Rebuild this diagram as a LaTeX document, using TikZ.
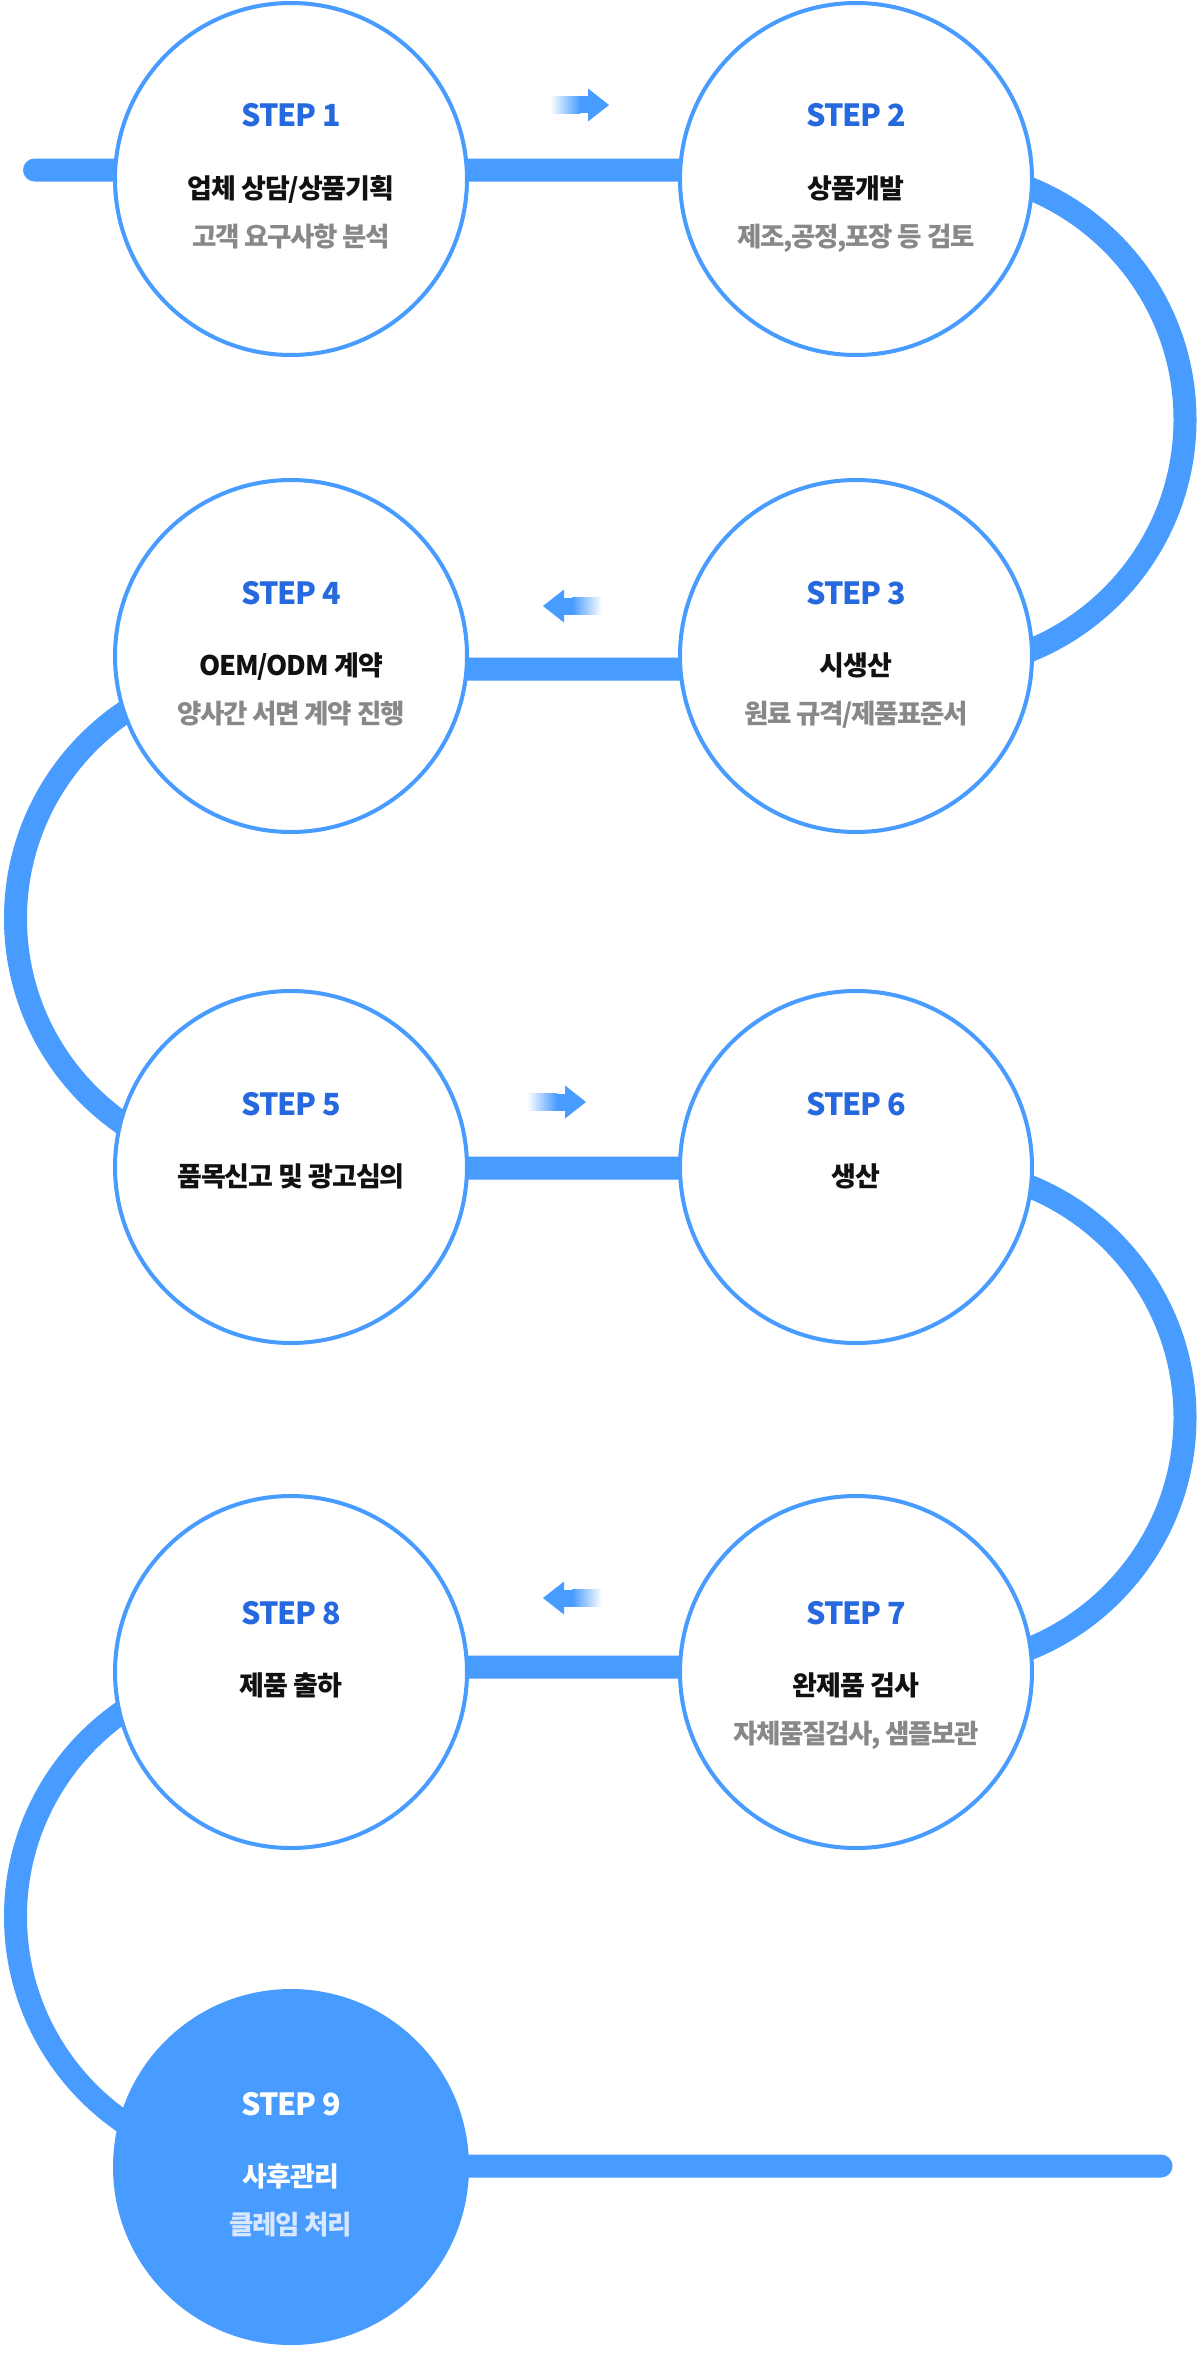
\documentclass[tikz,border=0pt]{standalone}
\usepackage{fontspec}
\setmainfont{Noto Sans CJK KR}
\definecolor{lineblue}{RGB}{72,155,255}
\definecolor{stepblue}{RGB}{38,104,222}
\definecolor{subgray}{RGB}{136,136,136}
\definecolor{titleblack}{RGB}{17,17,17}
\definecolor{palesub}{RGB}{214,231,255}
\newcommand\myrarrow[2]{%
  \shade[left color=white,right color=lineblue] (#1-59,#2-8.5) rectangle (#1-29,#2+8.5);
  \fill[lineblue] (#1-29.5,#2-8.5) rectangle (#1-19,#2+8.5);
  \fill[lineblue] (#1-21,#2-16.5) -- (#1,#2) -- (#1-21,#2+16.5) -- cycle;}
\newcommand\mylarrow[2]{%
  \shade[left color=lineblue,right color=white] (#1+29,#2-8.5) rectangle (#1+59,#2+8.5);
  \fill[lineblue] (#1+19,#2-8.5) rectangle (#1+29.5,#2+8.5);
  \fill[lineblue] (#1+21,#2-16.5) -- (#1,#2) -- (#1+21,#2+16.5) -- cycle;}
\begin{document}
\begin{tikzpicture}[x=1pt,y=-1pt,
  flowline/.style={line width=23pt, draw=lineblue, line cap=round},
  stepc/.style={circle, draw=lineblue, line width=4pt, fill=white, minimum size=352pt, inner sep=0pt},
  laststep/.style={circle, fill=lineblue, minimum size=356pt, inner sep=0pt},
  steplbl/.style={anchor=base, text=stepblue, font=\fontsize{30.5}{30}\selectfont\bfseries\addfontfeatures{LetterSpace=-4}},
  ttl/.style={anchor=base, text=titleblack, font=\fontsize{27}{27}\selectfont\bfseries\addfontfeatures{LetterSpace=-4}},
  sublbl/.style={anchor=base, text=subgray, font=\fontsize{26.5}{26}\selectfont\bfseries\addfontfeatures{LetterSpace=-5}},
]
\useasboundingbox (0,0) rectangle (1200,2355);
\fill[white] (0,0) rectangle (1200,2355);
% serpentine path
\coordinate (p0) at (34.5,170);
\coordinate (r1) at (935.5,170);
\coordinate (l2) at (265,669);
\coordinate (r3) at (935.5,1168);
\coordinate (l4) at (265,1667);
\coordinate (pend) at (1161,2166);
\draw[flowline] (p0) -- (r1) arc[start angle=-90, end angle=90, radius=249.5]
  -- (l2) arc[start angle=-90, end angle=-270, radius=249.5]
  -- (r3) arc[start angle=-90, end angle=90, radius=249.5]
  -- (l4) arc[start angle=-90, end angle=-270, radius=249.5]
  -- (pend);
% circles
\node[stepc] (s1) at (291,179) {};
\node[stepc] (s2) at (856,179) {};
\node[stepc] (s3) at (856,656) {};
\node[stepc] (s4) at (291,656) {};
\node[stepc] (s5) at (291,1167) {};
\node[stepc] (s6) at (856,1167) {};
\node[stepc] (s7) at (856,1672) {};
\node[stepc] (s8) at (291,1672) {};
\node[laststep] (s9) at (291,2167) {};
% arrows
\myrarrow{609}{105}
\mylarrow{543}{606}
\myrarrow{586}{1102}
\mylarrow{543}{1598}
% texts
\node[steplbl] (s1a) at (291,127) {STEP 1};
\node[ttl] (s1b) at (291,198) {업체 상담/상품기획};
\node[sublbl] (s1c) at (291,246) {고객 요구사항 분석};
\node[steplbl] (s2a) at (856,127) {STEP 2};
\node[ttl] (s2b) at (856,198) {상품개발};
\node[sublbl] (s2c) at (856,246) {제조,공정,포장 등 검토};
\node[steplbl] (s3a) at (856,604) {STEP 3};
\node[ttl] (s3b) at (856,675) {시생산};
\node[sublbl] (s3c) at (856,723) {원료 규격/제품표준서};
\node[steplbl] (s4a) at (291,604) {STEP 4};
\node[ttl] (s4b) at (291,675) {OEM/ODM 계약};
\node[sublbl] (s4c) at (291,723) {양사간 서면 계약 진행};
\node[steplbl] (s5a) at (291,1115) {STEP 5};
\node[ttl] (s5b) at (291,1186) {품목신고 및 광고심의};
\node[steplbl] (s6a) at (856,1115) {STEP 6};
\node[ttl] (s6b) at (856,1186) {생산};
\node[steplbl] (s7a) at (856,1624) {STEP 7};
\node[ttl] (s7b) at (856,1695) {완제품 검사};
\node[sublbl] (s7c) at (856,1743) {자체품질검사, 샘플보관};
\node[steplbl] (s8a) at (291,1624) {STEP 8};
\node[ttl] (s8b) at (291,1695) {제품 출하};
\node[steplbl, text=white] (s9a) at (291,2115) {STEP 9};
\node[ttl, text=white] (s9b) at (291,2186) {사후관리};
\node[sublbl, text=palesub] (s9c) at (291,2234) {클레임 처리};
\end{tikzpicture}
\end{document}
